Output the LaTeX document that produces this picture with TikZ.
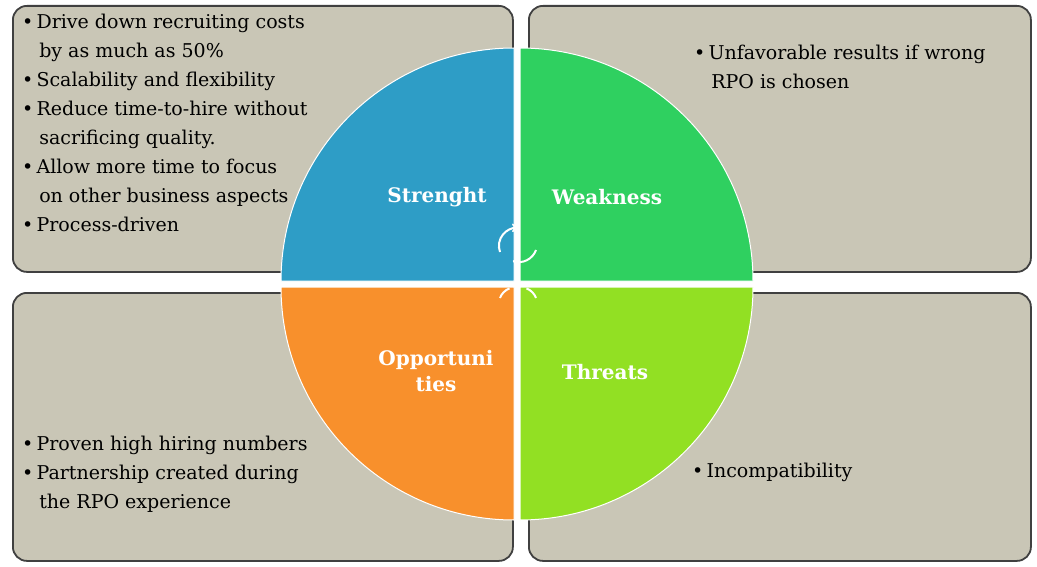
\documentclass[tikz,border=0pt]{standalone}
\usepackage{fontspec}
\setmainfont{DejaVu Serif}
\begin{document}
\begin{tikzpicture}[x=1pt,y=-1pt,
  txt/.style={anchor=north west,align=left,font=\fontsize{19}{29}\selectfont,inner sep=0pt},
  lab/.style={font=\bfseries\fontsize{20}{26}\selectfont,text=white,align=center}]
\useasboundingbox (0,0) rectangle (1037,567);
\definecolor{boxc}{HTML}{C9C6B6}
\tikzset{box/.style={draw=black!75,line width=1.8pt,rounded corners=14pt,fill=boxc}}
\node[box,minimum width=500,minimum height=266,anchor=north west] (b1) at (12,5) {};
\node[box,minimum width=502,minimum height=266,anchor=north west] (b2) at (528,5) {};
\node[box,minimum width=500,minimum height=268,anchor=north west] (b3) at (12,292) {};
\node[box,minimum width=502,minimum height=268,anchor=north west] (b4) at (528,292) {};
\definecolor{cb}{HTML}{2E9DC6}\definecolor{cg}{HTML}{2FD060}
\definecolor{co}{HTML}{F8902C}\definecolor{cl}{HTML}{92E023}
\fill[cb,draw=white,line width=1pt] (514,281) -- (281,281) arc[start angle=180,end angle=270,radius=233] -- cycle;
\fill[cg,draw=white,line width=1pt] (520,281) -- (520,48) arc[start angle=270,end angle=360,radius=233] -- cycle;
\fill[co,draw=white,line width=1pt] (514,287) -- (514,520) arc[start angle=90,end angle=180,radius=233] -- cycle;
\fill[cl,draw=white,line width=1pt] (520,287) -- (753,287) arc[start angle=0,end angle=90,radius=233] -- cycle;
\draw[white,line width=2pt,->] (500,252) arc[start angle=160,end angle=270,radius=18];
\draw[white,line width=2pt,->] (536,250) arc[start angle=20,end angle=110,radius=18];
\draw[white,line width=2pt] (500,298) arc[start angle=200,end angle=250,radius=16];
\draw[white,line width=2pt] (536,298) arc[start angle=-20,end angle=-70,radius=16];
\node[lab] (s) at (437,197) {Strenght};
\node[lab] (w) at (607,197) {Weakness};
\node[lab] (o) at (436,371) {Opportuni\\ties};
\node[lab] (t) at (605,372) {Threats};
\node[txt] (t1) at (22,14) {•\,Drive down recruiting costs\\\hspace{0.9em}by as much as 50\%\\•\,Scalability and flexibility\\•\,Reduce time-to-hire without\\\hspace{0.9em}sacrificing quality.\\•\,Allow more time to focus\\\hspace{0.9em}on other business  aspects\\•\,Process-driven};
\node[txt] (t2) at (694,45) {•\,Unfavorable results if wrong\\\hspace{0.9em}RPO is chosen};
\node[txt] (t3) at (22,436) {•\,Proven high hiring numbers\\•\,Partnership created during\\\hspace{0.9em}the RPO experience};
\node[txt] (t4) at (692,463) {•\,Incompatibility};
\end{tikzpicture}
\end{document}
